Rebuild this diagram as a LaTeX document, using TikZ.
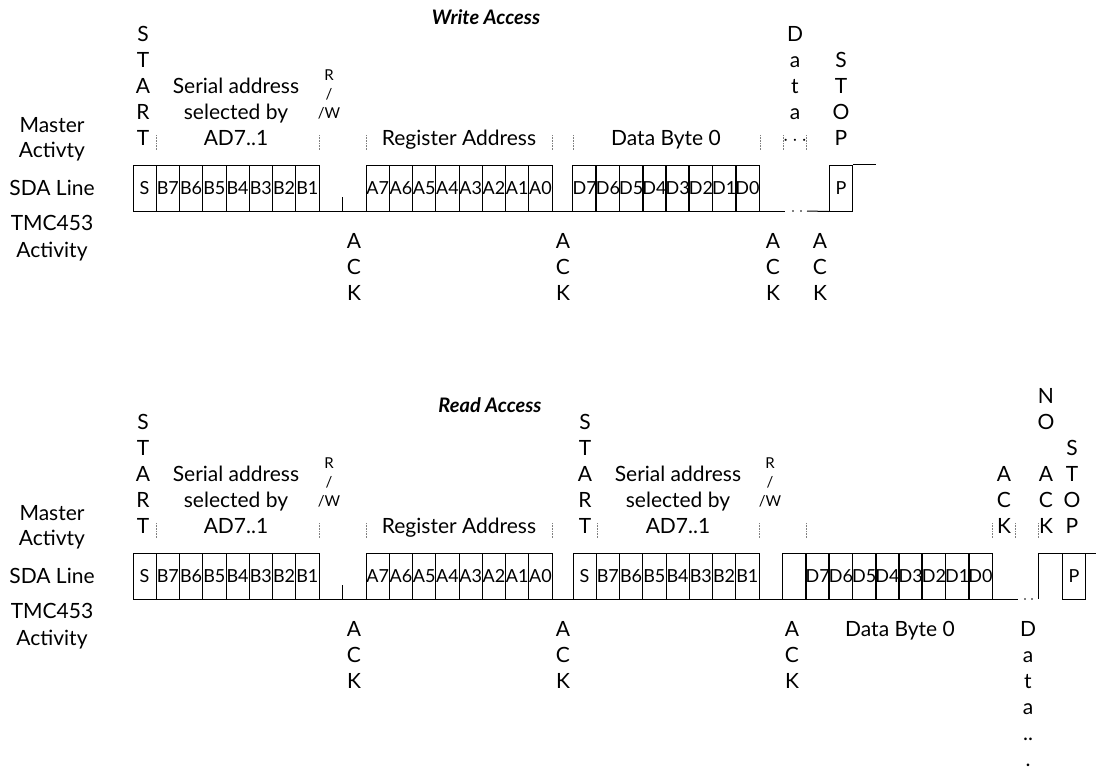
\documentclass[tikz,border=0pt]{standalone}
\usepackage{fontspec}
\setmainfont{Lato}
\usetikzlibrary{positioning}
% vertical words: name, x, first baseline, letters
\newcommand{\vword}[4]{\foreach \c [count=\i from 0] in {#4}
  \node[lbl] (#1-\i) at (#2,{#3+\i*26}) {\c};}
% one byte of cells: name, left x, centre y, labels
\newcommand{\cells}[4]{\foreach \c [count=\i from 0] in {#4}
  \node[cell] (#1-\i) at ({#2+(\i+0.5)*23.25},#3) {\c};}
\begin{document}
\begin{tikzpicture}[x=1pt,y=-1pt,line join=miter]
  \tikzset{every node/.style={inner sep=0pt,font=\fontsize{21}{26}\selectfont},
    lbl/.style={anchor=base},
    cell/.style={draw,line width=1pt,minimum width=23.25pt,minimum height=46pt,font=\fontsize{18}{20}\selectfont},
    wire/.style={line width=1pt},
    dotmark/.style={draw=gray,dash pattern=on 0.8pt off 0.8pt,line width=0.6pt},
    rw/.style={anchor=base,font=\fontsize{15}{19}\selectfont},
    title/.style={anchor=base,font=\fontsize{20}{24}\selectfont\bfseries\itshape}}
  \useasboundingbox (0,0) rectangle (1096,769);
  %% write access
  \node[title] (wtitle) at (486,24) {Write Access};
  \node[lbl] (wmas) at (52,132) {Master};
  \node[lbl] (wact) at (52,157) {Activty};
  \node[lbl] (wsda) at (52,195) {SDA Line};
  \node[lbl] (wtmc) at (52,230) {TMC453};
  \node[lbl] (wtac) at (52,257) {Activity};
  \vword{wstart}{143}{41}{S,T,A,R,T}
  \vword{wsa}{236}{93}{Serial address,selected by,AD7..1}
  \node[rw] (wr) at (329,80) {R};
  \node[rw] (wsl) at (329,99) {/};
  \node[rw] (ww) at (329,118) {/W};
  \node[lbl] (wreg) at (459,145) {Register Address};
  \node[lbl] (wdat) at (666,145) {Data Byte 0};
  \vword{wdata}{795}{41}{D,a,t,a,{$\cdots$}}
  \vword{wstop}{841}{67}{S,T,O,P}
  \foreach \x in {156,319,366,552,573,760,783,806}
    \draw[dotmark] (\x,135) -- (\x,150);
  % SDA line
  \cells{wadr}{133}{188}{S,B7,B6,B5,B4,B3,B2,B1}
  \cells{wregc}{366}{188}{A7,A6,A5,A4,A3,A2,A1,A0}
  \cells{wdb}{573}{188}{D7,D6,D5,D4,D3,D2,D1,D0}
  \node[cell] (wp) at (841,188) {P};
  \coordinate (wtick) at (342,211);
  \coordinate (wgap) at (807,211);
  \draw[wire] (wadr-7.south east) -- (wregc-0.south west);
  \draw[wire] (wtick) -- ++(0,-14);
  \draw[wire] (wregc-7.south east) -- (wdb-0.south west);
  \draw[wire] (wdb-7.south east) -- ++(25,0);
  \fill (793,211) circle (0.8) (801,211) circle (0.8);
  \draw[wire] (wgap) -- (wp.south west);
  \draw[wire] (wp.north east) -- ++(23,0);
  \vword{wack1}{354}{248}{A,C,K}
  \vword{wack2}{563}{248}{A,C,K}
  \vword{wack3}{773}{248}{A,C,K}
  \vword{wack4}{820}{248}{A,C,K}
  %% read access
  \node[title] (rtitle) at (490,412) {Read Access};
  \node[lbl] (rmas) at (52,520) {Master};
  \node[lbl] (ract) at (52,545) {Activty};
  \node[lbl] (rsda) at (52,583) {SDA Line};
  \node[lbl] (rtmc) at (52,618) {TMC453};
  \node[lbl] (rtac) at (52,645) {Activity};
  \vword{rstart}{143}{429}{S,T,A,R,T}
  \vword{rsa}{236}{481}{Serial address,selected by,AD7..1}
  \node[rw] (rr) at (329,468) {R};
  \node[rw] (rsl) at (329,487) {/};
  \node[rw] (rw) at (329,506) {/W};
  \node[lbl] (rreg) at (459,533) {Register Address};
  \vword{rstartb}{585}{429}{S,T,A,R,T}
  \vword{rsab}{678}{481}{Serial address,selected by,AD7..1}
  \node[rw] (rrb) at (770,468) {R};
  \node[rw] (rslb) at (770,487) {/};
  \node[rw] (rwb) at (770,506) {/W};
  \vword{racktop}{1004}{481}{A,C,K}
  \vword{rnoack}{1046}{403}{N,O,{},A,C,K}
  \vword{rstop}{1072}{455}{S,T,O,P}
  \foreach \x in {156,319,366,552,597,759,806,992,1015,1038}
    \draw[dotmark] (\x,523) -- (\x,538);
  % SDA line
  \cells{radr}{133}{576}{S,B7,B6,B5,B4,B3,B2,B1}
  \cells{rregc}{366}{576}{A7,A6,A5,A4,A3,A2,A1,A0}
  \cells{radrb}{573}{576}{S,B7,B6,B5,B4,B3,B2,B1}
  \node[cell] (rack0) at (794.5,576) {};
  \cells{rdb}{806}{576}{D7,D6,D5,D4,D3,D2,D1,D0}
  \node[cell] (rp) at (1074,576) {P};
  \coordinate (rtick) at (342,599);
  \coordinate (rrise) at (1038,599);
  \coordinate (rend) at (1096,553);
  \draw[wire] (radr-7.south east) -- (rregc-0.south west);
  \draw[wire] (rtick) -- ++(0,-14);
  \draw[wire] (rregc-7.south east) -- (radrb-0.south west);
  \draw[wire] (radrb-7.south east) -- (rack0.south west);
  \draw[wire] (rdb-7.south east) -- ++(25,0);
  \fill (1025,599) circle (0.8) (1032,599) circle (0.8);
  \draw[wire] (rrise) -- ++(0,-46) -- (rend);
  \vword{rack1}{354}{636}{A,C,K}
  \vword{rack2}{563}{636}{A,C,K}
  \vword{rack3}{792}{636}{A,C,K}
  \node[lbl] (rdat) at (900,636) {Data Byte 0};
  \vword{rdata}{1028}{636}{D,a,t,a,..,.}
\end{tikzpicture}
\end{document}
